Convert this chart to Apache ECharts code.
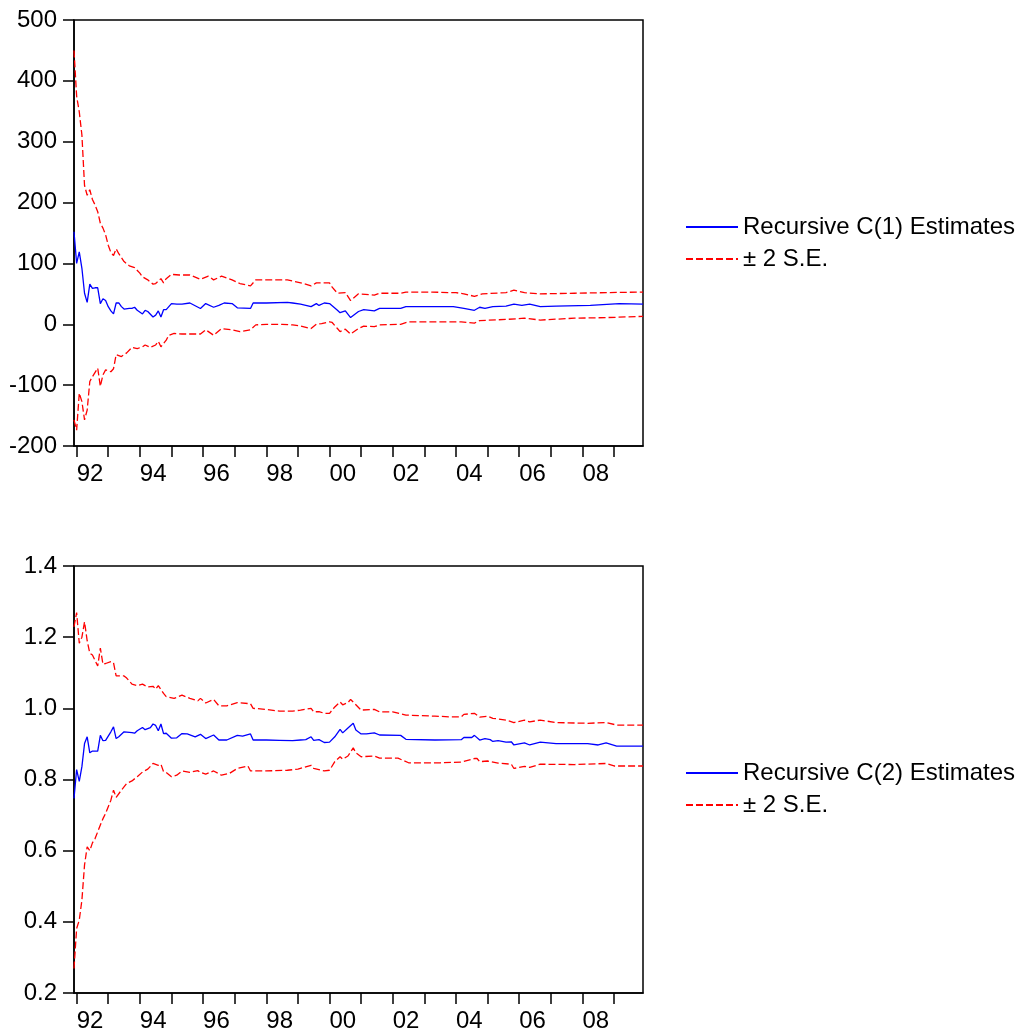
<!DOCTYPE html>
<html>
<head>
<meta charset="utf-8">
<script src="https://cdn.jsdelivr.net/npm/echarts@6/dist/echarts.min.js"></script>
<style>
html,body{margin:0;padding:0;background:#fff;}
#chart{width:1022px;height:1034px;}
</style>
</head>
<body>
<div id="chart"></div>
<script>
// Monthly categories: 1991M12 .. 2009M12 (217 months)
var months = [];
for (var i = 0; i < 217; i++) {
  var t = 1991 * 12 + 11 + i;
  var y = Math.floor(t / 12), m = t % 12 + 1;
  months.push(y + '-' + (m < 10 ? '0' + m : m));
}

// [month index, value] pairs
var c1Est = [[0,152],[1,100],[2,119],[3,92],[4,51],[5,36],[6,66],[7,59],[8,60],[9,60],[10,34],[11,42],[12,39],[13,29],[14,22],[15,17],[16,35],[17,35],[18,29],[19,25],[21,26],[22,26],[23,28],[24,23],[26,17],[27,23],[28,21],[30,12],[31,15],[32,22],[33,12],[34,24],[35,24],[37,34],[39,33],[41,33],[44,35],[48,26],[50,34],[53,28],[55,31],[57,35],[60,34],[62,27],[67,26],[68,35],[73,35],[81,36],[83,35],[86,33],[90,29],[92,34],[93,31],[95,35],[97,34],[100,23],[101,19],[103,22],[105,11],[108,21],[110,24],[114,22],[116,26],[124,26],[126,29],[136,29],[144,29],[148,26],[152,23],[154,28],[156,26],[159,29],[164,30],[167,33],[170,31],[173,33],[177,29],[183,30],[196,31],[207,34],[216,33]];
var c1Up = [[0,450],[1,375],[2,349],[3,311],[4,228],[5,212],[6,221],[7,205],[8,196],[9,185],[10,166],[11,158],[12,147],[13,130],[14,118],[15,113],[16,124],[17,116],[19,103],[21,96],[23,93],[25,84],[26,78],[28,73],[30,66],[31,67],[33,75],[34,68],[35,75],[37,82],[40,81],[44,81],[48,74],[51,79],[53,73],[56,79],[60,73],[63,67],[67,63],[69,73],[73,73],[81,73],[83,71],[87,67],[90,63],[92,68],[97,68],[98,61],[100,51],[103,52],[105,39],[108,50],[114,48],[116,51],[124,51],[126,53],[136,53],[143,52],[145,52],[148,50],[152,46],[155,50],[164,52],[167,56],[171,52],[177,50],[190,51],[202,52],[216,53]];
var c1Low = [[0,-157],[1,-174],[2,-113],[3,-127],[4,-157],[5,-141],[6,-94],[7,-86],[9,-72],[10,-102],[11,-83],[12,-75],[14,-78],[15,-73],[16,-50],[18,-53],[20,-47],[22,-38],[24,-40],[26,-37],[27,-34],[29,-38],[31,-34],[32,-28],[33,-37],[35,-26],[36,-18],[38,-15],[41,-16],[44,-16],[48,-16],[50,-9],[53,-18],[56,-7],[60,-9],[63,-12],[67,-9],[69,-1],[73,0],[79,0],[83,-1],[86,-3],[90,-7],[92,0],[94,1],[97,4],[98,3],[100,-7],[101,-12],[103,-8],[105,-16],[108,-7],[110,-3],[114,-4],[116,-1],[124,0],[127,4],[139,4],[147,4],[152,2],[154,6],[164,8],[171,10],[177,7],[190,10],[202,11],[216,13]];

var c2Est = [[0,0.747],[1,0.828],[2,0.795],[3,0.836],[4,0.901],[5,0.92],[6,0.875],[7,0.88],[9,0.88],[10,0.924],[11,0.909],[12,0.91],[14,0.934],[15,0.948],[16,0.915],[17,0.92],[19,0.934],[22,0.932],[23,0.93],[24,0.937],[26,0.946],[27,0.94],[29,0.946],[30,0.956],[31,0.952],[32,0.937],[33,0.956],[34,0.929],[35,0.93],[37,0.916],[39,0.917],[41,0.929],[43,0.928],[46,0.92],[48,0.927],[50,0.915],[53,0.925],[55,0.911],[58,0.911],[62,0.924],[64,0.922],[67,0.928],[68,0.911],[73,0.911],[78,0.91],[83,0.909],[86,0.911],[88,0.912],[90,0.92],[91,0.91],[93,0.912],[95,0.904],[97,0.905],[99,0.92],[101,0.941],[102,0.931],[104,0.945],[106,0.958],[107,0.939],[109,0.928],[111,0.928],[114,0.931],[116,0.925],[124,0.924],[126,0.913],[137,0.911],[147,0.912],[148,0.918],[151,0.918],[152,0.924],[154,0.911],[156,0.915],[158,0.912],[159,0.907],[161,0.909],[164,0.905],[166,0.906],[167,0.897],[171,0.903],[173,0.897],[177,0.905],[183,0.901],[195,0.901],[199,0.897],[202,0.903],[206,0.894],[216,0.894]];
var c2Up = [[0,1.229],[1,1.269],[2,1.183],[3,1.2],[4,1.243],[5,1.19],[6,1.155],[7,1.15],[9,1.119],[10,1.169],[11,1.124],[12,1.126],[14,1.131],[15,1.128],[16,1.091],[19,1.091],[20,1.085],[22,1.068],[24,1.064],[26,1.068],[28,1.06],[30,1.062],[31,1.054],[32,1.064],[34,1.042],[35,1.033],[38,1.028],[41,1.037],[44,1.028],[47,1.021],[48,1.028],[50,1.015],[53,1.025],[55,1.007],[58,1.007],[62,1.016],[67,1.013],[68,1.0],[73,0.997],[78,0.992],[83,0.992],[86,0.995],[90,1.0],[91,0.99],[93,0.991],[95,0.986],[97,0.986],[99,1.004],[101,1.018],[102,1.01],[104,1.016],[105,1.025],[107,1.01],[109,0.995],[114,0.997],[116,0.99],[121,0.99],[126,0.981],[137,0.978],[143,0.976],[147,0.976],[148,0.983],[152,0.986],[154,0.975],[157,0.978],[159,0.972],[164,0.967],[167,0.96],[171,0.967],[173,0.962],[177,0.967],[183,0.96],[195,0.958],[202,0.96],[206,0.953],[216,0.953]];
var c2Low = [[0,0.269],[1,0.381],[2,0.405],[3,0.461],[4,0.56],[5,0.611],[6,0.6],[7,0.622],[8,0.634],[9,0.653],[10,0.672],[11,0.69],[12,0.705],[14,0.742],[15,0.77],[16,0.75],[18,0.77],[20,0.789],[22,0.796],[24,0.808],[26,0.821],[28,0.829],[30,0.845],[32,0.84],[33,0.843],[34,0.822],[35,0.82],[37,0.808],[39,0.812],[41,0.824],[44,0.82],[47,0.825],[48,0.82],[50,0.815],[53,0.824],[56,0.812],[59,0.817],[62,0.831],[66,0.838],[67,0.824],[73,0.824],[81,0.826],[85,0.829],[90,0.84],[91,0.831],[95,0.824],[97,0.826],[99,0.85],[101,0.864],[102,0.857],[104,0.866],[106,0.889],[107,0.875],[109,0.864],[114,0.866],[116,0.86],[123,0.86],[127,0.847],[139,0.847],[147,0.849],[152,0.859],[153,0.859],[154,0.85],[157,0.852],[161,0.846],[166,0.843],[167,0.831],[171,0.837],[173,0.834],[177,0.843],[190,0.842],[202,0.845],[205,0.838],[216,0.838]];

var nameC1 = 'Recursive C(1) Estimates';
var nameC2 = 'Recursive C(2) Estimates';
var nameSE = '\u00b1 2 S.E.';

var FONT = '"Liberation Sans", Arial, sans-serif';
var FS = 24;

function xAxisDef(gi) {
  return {
    type: 'category', gridIndex: gi, data: months, boundaryGap: false,
    axisLine: {show: true, onZero: false, lineStyle: {color: '#000', width: 1.5}},
    axisTick: {show: true, length: 11, lineStyle: {color: '#000', width: 1.5},
      interval: function (idx, v) { return v.slice(5) === '01'; }},
    axisLabel: {
      interval: function (idx, v) { return v.slice(5) === '01' && (+v.slice(0, 4)) % 2 === 0; },
      formatter: function (v) { return v.slice(2, 4); },
      color: '#000', fontFamily: FONT, fontSize: FS, margin: 16, align: 'left', hideOverlap: false
    },
    splitLine: {show: false}
  };
}
function yAxisDef(gi, mn, mx, iv, dec) {
  return {
    type: 'value', gridIndex: gi, min: mn, max: mx, interval: iv,
    axisLine: {show: true, onZero: false, lineStyle: {color: '#000', width: 1.5}},
    axisTick: {show: true, length: 11, lineStyle: {color: '#000', width: 1.5}},
    axisLabel: {color: '#000', fontFamily: FONT, fontSize: FS, margin: 17,
      formatter: function (v) { return dec ? v.toFixed(dec) : String(Math.round(v)); }},
    splitLine: {show: false}
  };
}
function lineS(name, gi, data, color, dashed) {
  return {
    name: name, type: 'line', xAxisIndex: gi, yAxisIndex: gi, data: data,
    symbol: 'none', showSymbol: false, animation: false, silent: true,
    lineStyle: {color: color, width: 1.3, type: dashed ? [7, 3] : 'solid'},
    itemStyle: {color: color}
  };
}
function legendDef(top, names) {
  return {
    orient: 'vertical', left: 685, top: top, padding: 0,
    itemWidth: 52, itemHeight: 12, itemGap: 8,
    data: names, selectedMode: false,
    itemStyle: {color: 'rgba(0,0,0,0)', borderWidth: 0, opacity: 0},
    textStyle: {color: '#000', fontFamily: FONT, fontSize: FS}
  };
}

var chart = echarts.init(document.getElementById('chart'), null, {renderer: 'canvas'});
chart.setOption({
  backgroundColor: '#fff',
  animation: false,
  grid: [
    {left: 74, top: 20, width: 569, height: 426, show: true, borderColor: '#000', borderWidth: 1.5, backgroundColor: '#fff'},
    {left: 74, top: 566, width: 569, height: 427, show: true, borderColor: '#000', borderWidth: 1.5, backgroundColor: '#fff'}
  ],
  xAxis: [xAxisDef(0), xAxisDef(1)],
  yAxis: [yAxisDef(0, -200, 500, 100, 0), yAxisDef(1, 0.2, 1.4, 0.2, 1)],
  legend: [
    legendDef(215, [nameC1, nameSE]),
    legendDef(761, [nameC2, nameSE + ' '])
  ],
  series: [
    lineS(nameC1, 0, c1Est, '#0000FF', false),
    lineS(nameSE, 0, c1Up, '#FF0000', true),
    lineS(nameSE, 0, c1Low, '#FF0000', true),
    lineS(nameC2, 1, c2Est, '#0000FF', false),
    lineS(nameSE + ' ', 1, c2Up, '#FF0000', true),
    lineS(nameSE + ' ', 1, c2Low, '#FF0000', true)
  ]
});
</script>
</body>
</html>
